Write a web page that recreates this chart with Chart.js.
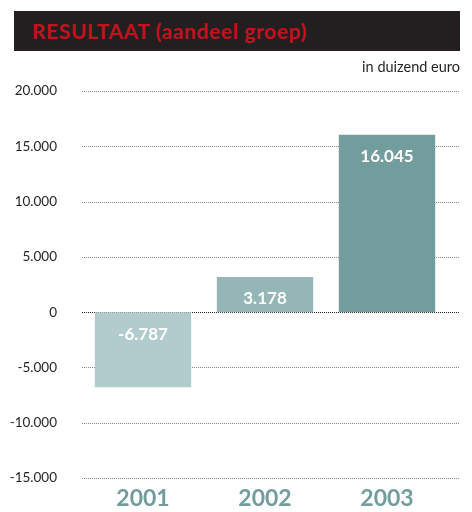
<!DOCTYPE html>
<html>
<head>
<meta charset="utf-8">
<script src="https://cdn.jsdelivr.net/npm/chart.js@4.4.0/dist/chart.umd.min.js"></script>
<style>
  html, body { margin: 0; padding: 0; background: #fff; }
  #wrap { position: relative; width: 472px; height: 512px; font-family: Lato, "Open Sans", sans-serif; }
  #kop { position: absolute; left: 14px; top: 11px; width: 446px; height: 40px; background: #231f20;
         color: #c2121e; font-weight: bold; font-size: 21px; letter-spacing: 0.6px; line-height: 40px;
         padding-left: 18px; box-sizing: border-box; }
  #eenheid { position: absolute; right: 12px; top: 58px; font-size: 14.5px; color: #231f20; }
  #chart { position: absolute; left: 0; top: 0; }
</style>
</head>
<body>
<div id="wrap">
  <canvas id="chart" width="472" height="512"></canvas>
  <div id="kop">RESULTAAT (aandeel groep)</div>
  <div id="eenheid">in duizend euro</div>
</div>
<script>
const jaren = ['2001', '2002', '2003'];
const resultaat = [-6787, 3178, 16045];
const kleuren = ['#b2cbcd', '#95b6b6', '#739c9d'];
const yTicks = [20000, 15000, 10000, 5000, 0, -5000, -10000, -15000];

// Getal in Belgische notatie (punt als duizendtal-scheiding)
function fmt(v) {
    const s = Math.abs(v).toString().replace(/\B(?=(\d{3})+(?!\d))/g, '.');
    return (v < 0 ? '-' : '') + s;
}

// Gestippelde rasterlijnen onder de staven, tot aan de rechterkant van de kop
const raster = {
    id: 'raster',
    beforeDatasetsDraw(chart) {
        const ctx = chart.ctx;
        const y = chart.scales.y;
        ctx.save();
        ctx.lineWidth = 1;
        ctx.setLineDash([1, 1]);
        y.ticks.forEach(t => {
            const py = Math.round(y.getPixelForValue(t.value)) + 0.5;
            ctx.strokeStyle = t.value === 0 ? '#222' : '#8a8a8a';
            ctx.beginPath();
            ctx.moveTo(chart.chartArea.left, py);
            ctx.lineTo(460, py);
            ctx.stroke();
        });
        ctx.restore();
    }
};

// Waarden in wit bovenin de staaf
const waarden = {
    id: 'waarden',
    afterDatasetsDraw(chart) {
        const ctx = chart.ctx;
        const meta = chart.getDatasetMeta(0);
        ctx.save();
        ctx.fillStyle = '#fff';
        ctx.font = 'bold 17px Lato, sans-serif';
        ctx.textAlign = 'center';
        ctx.textBaseline = 'middle';
        meta.data.forEach((bar, i) => {
            const top = Math.min(bar.y, bar.base);
            ctx.fillText(fmt(resultaat[i]), bar.x, top + 22);
        });
        ctx.restore();
    }
};

new Chart(document.getElementById('chart'), {
    type: 'bar',
    data: {
        labels: jaren,
        datasets: [{
            data: resultaat,
            backgroundColor: kleuren,
            borderWidth: 0,
            categoryPercentage: 0.79,
            barPercentage: 1
        }]
    },
    options: {
        responsive: false,
        animation: false,
        layout: { padding: { top: 91, right: 24, bottom: 0, left: 0 } },
        plugins: { legend: { display: false }, tooltip: { enabled: false } },
        scales: {
            x: {
                grid: { display: false, drawTicks: false },
                border: { display: false },
                ticks: {
                    color: '#739c9d',
                    font: { family: 'Lato', size: 23, weight: 'bold' },
                    padding: 7
                },
                afterFit(s) { s.height = 34; }
            },
            y: {
                min: -15000,
                max: 20000,
                afterBuildTicks(s) { s.ticks = yTicks.map(v => ({ value: v })); },
                grid: { display: false, drawTicks: false },
                border: { display: false },
                ticks: {
                    color: '#231f20',
                    font: { family: 'Lato', size: 13.5 },
                    padding: 25,
                    callback: v => fmt(v)
                },
                afterFit(s) { s.width = 82; }
            }
        }
    },
    plugins: [raster, waarden]
});
</script>
</body>
</html>
